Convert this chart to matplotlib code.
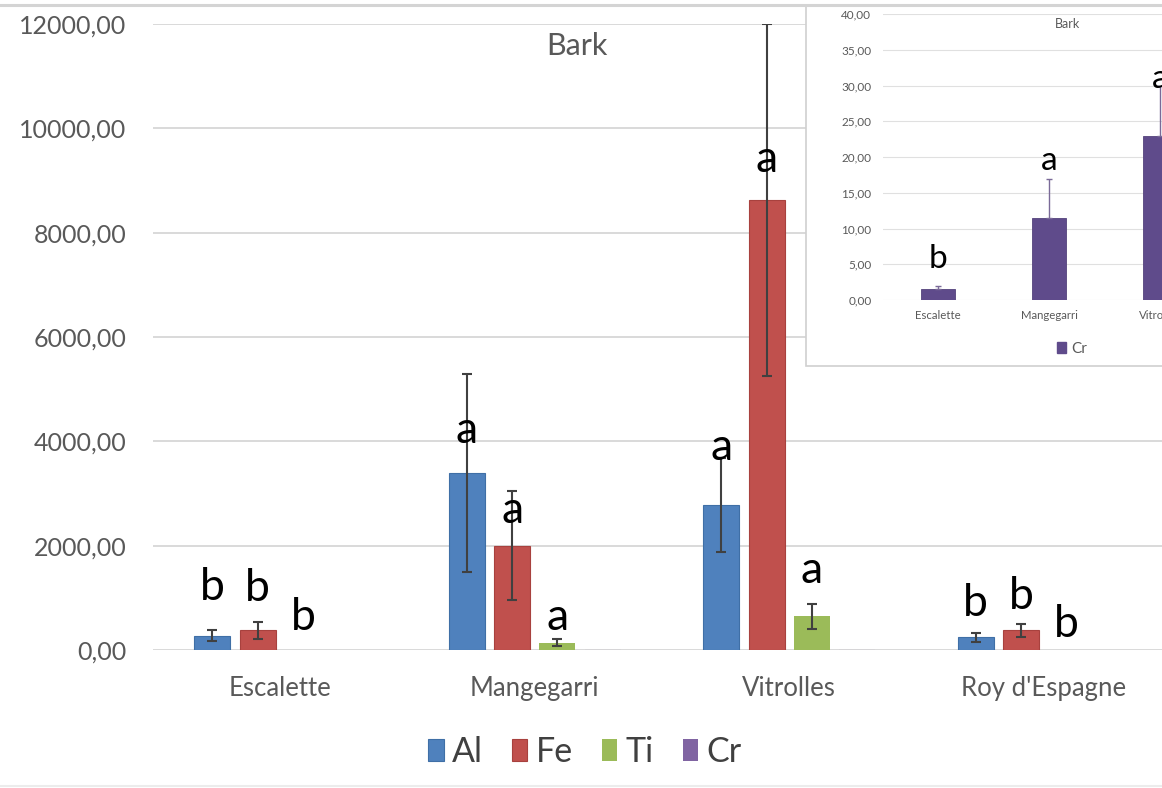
import numpy as np
import matplotlib
matplotlib.use('Agg')
import matplotlib.pyplot as plt
from matplotlib.patches import Rectangle
from matplotlib.lines import Line2D
from matplotlib.ticker import FuncFormatter

plt.rcParams['font.family'] = ['Lato', 'DejaVu Sans']

# data
sites = ['Escalette', 'Mangegarri', 'Vitrolles', "Roy d'Espagne"]
elements = ['Al', 'Fe', 'Ti', 'Cr']
al = [275, 3400, 2780, 240]
al_err = [105, 1900, 900, 90]
fe = [380, 2000, 8625, 380]
fe_err = [160, 1050, 3370, 125]
ti = [3, 140, 650, 2]
ti_err = [np.nan, 65, 240, np.nan]
cr = [1.5, 11.5, 22.9, 1.2]
cr_err = [0.5, 5.4, 7.0, 0.4]

# significance letters and the height of their baseline
al_letters = ['b', 'a', 'a', 'b']
fe_letters = ['b', 'a', 'a', 'b']
ti_letters = ['b', 'a', 'a', 'b']
cr_letters = ['b', 'a', 'a', 'b']
al_lab_y = [958, 3968, 3642, 652]
fe_lab_y = [940, 2434, 9163, 786]
ti_lab_y = [383, 383, 1284, 249]
cr_lab_y = [4.5, 18.2, 29.7, 4.5]

colors = ['#4f81bd', '#c0504d', '#9bbb59', '#8064a2']
edges = ['#3f6fa6', '#a8413e', '#86a449', '#6b5290']
edge_w = [0.8, 0.8, 0, 0]
bar_z = [3, 3, 3, 0.2]   # Cr is tiny on this scale, keep it under the zero line
grey = '#595959'
W, H = 1162, 788

fig = plt.figure(figsize=(W / 100, H / 100), dpi=100)

# ---- main chart
ax = fig.add_axes([153 / W, (H - 650) / H, 1018 / W, 626 / H])
ax.set_zorder(0)
x = np.arange(len(sites))
step = 0.178
bw = 0.1415
series = [al, fe, ti, cr]
errs = [al_err, fe_err, ti_err, cr_err]
letters = [al_letters, fe_letters, ti_letters, cr_letters]
lab_y = [al_lab_y, fe_lab_y, ti_lab_y, None]
handles = []
for j in range(4):
    xs = x + (j - 1.5) * step
    b = ax.bar(xs, series[j], bw, color=colors[j], edgecolor=edges[j], linewidth=edge_w[j],
               yerr=errs[j] if j < 3 else None,
               error_kw=dict(ecolor='#404040', elinewidth=1.5, capsize=3.6, capthick=1.5),
               zorder=bar_z[j])
    handles.append(b)
    if lab_y[j] is not None:
        for k in range(len(sites)):
            ax.text(xs[k], lab_y[j][k], letters[j][k], ha='center', va='baseline',
                    fontsize=32, color='black', zorder=4)

ax.set_xlim(-0.5, 3.5)
ax.set_ylim(0, 12000)
ax.set_yticks(np.arange(0, 12001, 2000))
ax.yaxis.set_major_formatter(FuncFormatter(lambda v, p: f'{v:.2f}'.replace('.', ',')))
ax.set_xticks(x)
ax.set_xticklabels(sites)
ax.tick_params(axis='y', length=0, pad=19, labelsize=18, labelcolor=grey)
ax.tick_params(axis='x', length=0, pad=19, labelsize=18.5, labelcolor=grey)
ax.grid(axis='y', color='#d9d9d9', linewidth=1.4, zorder=0.5)
for gl in ax.get_ygridlines():
    gl.set_zorder(0.5)
for s in ax.spines.values():
    s.set_visible(False)

fig.text(577 / W, 1 - 46 / H, 'Bark', ha='center', va='center', fontsize=22, color=grey)

fig.legend(handles, elements, loc='center', bbox_to_anchor=(585 / W, 1 - 752 / H),
           ncol=4, frameon=False, fontsize=24.5, handlelength=0.45, handleheight=0.65,
           handletextpad=0.25, columnspacing=0.85, labelcolor='#404040')

# ---- inset panel (Cr)
panel = Rectangle((806 / W, (H - 366) / H), 0.5, 361 / H, transform=fig.transFigure,
                  facecolor='white', edgecolor='#d0d0d0', linewidth=1.2, zorder=2)
fig.add_artist(panel)

ins = fig.add_axes([882.5 / W, (H - 300) / H, 444 / W, 286 / H])
ins.set_zorder(3)
ins.patch.set_alpha(0)
ins.bar(x, cr, 0.306, color='#5f4b8b', edgecolor='#54427c', linewidth=0.6,
        yerr=[np.zeros(len(cr)), cr_err],
        error_kw=dict(ecolor='#7a6a98', elinewidth=1.0, capsize=2, capthick=1.0), zorder=3)
for k in range(len(sites)):
    ins.text(x[k], cr_lab_y[k], cr_letters[k], ha='center', va='baseline',
             fontsize=24, color='black', zorder=4)
ins.set_xlim(-0.5, 3.5)
ins.set_ylim(0, 40)
ins.set_yticks(np.arange(0, 41, 5))
ins.yaxis.set_major_formatter(FuncFormatter(lambda v, p: f'{v:.2f}'.replace('.', ',')))
ins.set_xticks(x)
ins.set_xticklabels(sites)
ins.tick_params(axis='y', length=0, pad=8, labelsize=8.5, labelcolor=grey)
ins.tick_params(axis='x', length=0, pad=7, labelsize=8.2, labelcolor=grey)
ins.grid(axis='y', color='#e0e0e0', linewidth=0.8, zorder=0)
ins.set_axisbelow(True)
for s in ins.spines.values():
    s.set_visible(False)

fig.text(1067 / W, 1 - 24 / H, 'Bark', ha='center', va='center', fontsize=9,
         color=grey, zorder=5)
fig.legend([Rectangle((0, 0), 1, 1, color='#5f4b8b')], ['Cr'], loc='center',
           bbox_to_anchor=(1072 / W, 1 - 349 / H), frameon=False, fontsize=11,
           handlelength=0.6, handleheight=0.7, handletextpad=0.3, labelcolor=grey)

# frame lines of the screenshot
fig.add_artist(Line2D([0, 1], [1 - 5 / H, 1 - 5 / H], transform=fig.transFigure,
                      color='#d4d4d4', linewidth=2.2, zorder=6))
fig.add_artist(Line2D([0, 1], [1 - 786 / H, 1 - 786 / H], transform=fig.transFigure,
                      color='#ececec', linewidth=1.5, zorder=6))

fig.savefig('out.png', dpi=100)
